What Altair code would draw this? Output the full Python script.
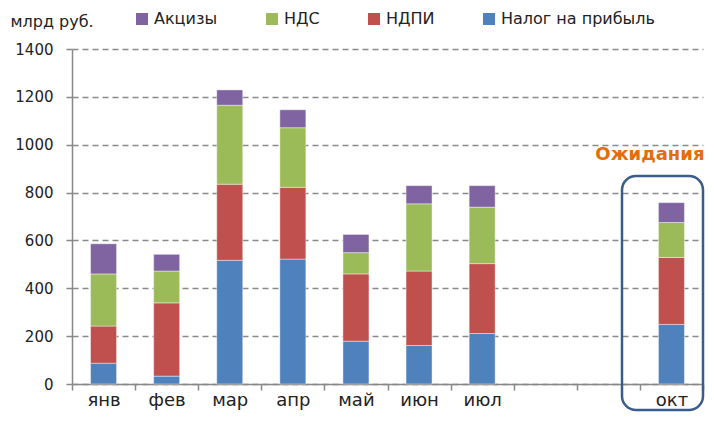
import altair as alt
import pandas as pd

months = ["янв", "фев", "мар", "апр", "май", "июн", "июл", "авг", "сен", "окт"]
data_months = ["янв", "фев", "мар", "апр", "май", "июн", "июл", "окт"]
profit = [87, 33, 517, 522, 179, 161, 211, 249]
ndpi = [155, 306, 318, 300, 281, 311, 292, 280]
nds = [218, 133, 330, 249, 89, 281, 236, 146]
excise = [126, 70, 64, 75, 76, 76, 90, 83]

series = ["Акцизы", "НДС", "НДПИ", "Налог на прибыль"]
colors = ["#8064A2", "#9BBB59", "#C0504D", "#4F81BD"]

rows = []
for i, m in enumerate(data_months):
    for name, vals, ordv in [("Налог на прибыль", profit, 0), ("НДПИ", ndpi, 1),
                             ("НДС", nds, 2), ("Акцизы", excise, 3)]:
        rows.append({"month": m, "series": name, "value": vals[i], "ord": ordv})
df = pd.DataFrame(rows)

FONT = "DejaVu Sans"

bars = alt.Chart(df).mark_bar(size=26, stroke="white", strokeWidth=0.6, strokeOpacity=0.7).encode(
    x=alt.X("month:N", sort=months,
            scale=alt.Scale(domain=months, paddingInner=0, paddingOuter=0),
            axis=alt.Axis(title=None, tickBand="extent", labelAngle=0,
                          labelExpr="datum.label == 'авг' || datum.label == 'сен' ? '' : datum.label",
                          labelFontSize=18, labelPadding=1, labelColor="#222",
                          tickSize=6, tickColor="#888", tickWidth=1.5,
                          domainColor="#888", domainWidth=1.5)),
    y=alt.Y("value:Q", stack="zero",
            scale=alt.Scale(domain=[0, 1400], nice=False),
            axis=alt.Axis(values=list(range(0, 1401, 200)), format="d",
                          grid=True, gridDash=[6, 4], gridColor="#8a8a8a", gridWidth=1.3,
                          tickSize=6, tickColor="#888", tickWidth=1.5,
                          domainColor="#888", domainWidth=1.5,
                          labelFontSize=15, labelPadding=13, labelColor="#222",
                          title="млрд руб.", titleAngle=0, titleAlign="left",
                          titleBaseline="middle", titleX=-62, titleY=-28,
                          titleFontSize=16, titleFontWeight="normal", titleColor="#222")),
    color=alt.Color("series:N", scale=alt.Scale(domain=series, range=colors),
                    legend=alt.Legend(orient="none", direction="horizontal",
                                      legendX=62, legendY=-38, title=None,
                                      symbolType="square", symbolSize=144,
                                      symbolStrokeWidth=0, labelFontSize=16,
                                      labelColor="#222", columnPadding=46,
                                      labelOffset=4)),
    order=alt.Order("ord:Q"),
)

annot_df = pd.DataFrame({"month": ["окт"], "v": [955], "t": ["Ожидания"]})
annot = alt.Chart(annot_df).mark_text(align="right", baseline="middle", dx=33,
                                      fontSize=18, fontWeight="bold",
                                      color="#E46C0A").encode(
    x=alt.X("month:N", sort=months), y=alt.Y("v:Q"), text="t:N")

box = alt.Chart(pd.DataFrame({"a": [0]})).mark_rect(
    fill=None, fillOpacity=0, stroke="#385D8A", strokeWidth=2.5, cornerRadius=14).encode(
    x=alt.value(550), x2=alt.value(631), y=alt.value(127), y2=alt.value(361))

chart = alt.layer(bars, annot, box).properties(
    width=631, height=335,
    autosize=alt.AutoSizeParams(type="none"),
    padding={"left": 64, "top": 41, "right": 3, "bottom": 29},
).configure(font=FONT).configure_view(stroke=None)

chart.save("out.html", embed_options={"renderer": "svg", "actions": False})
